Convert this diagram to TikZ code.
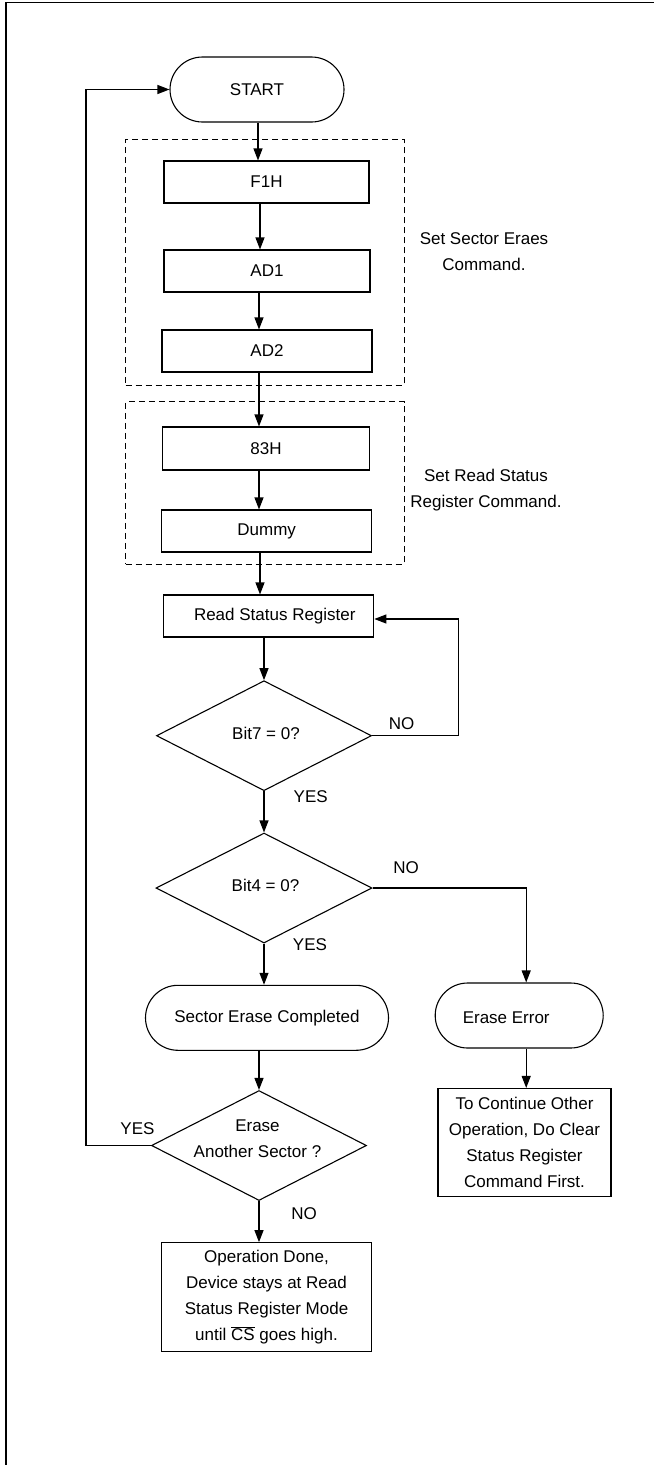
\documentclass[tikz,border=0pt]{standalone}
\usepackage{fontspec}
\setmainfont{Liberation Sans}
\usetikzlibrary{arrows.meta,shapes.geometric,shapes.misc}
\begin{document}
\begin{tikzpicture}[x=1pt,y=-1pt,
  every node/.style={font=\fontsize{17}{26}\selectfont, inner sep=0pt},
  box/.style={draw, line width=1.1pt, rectangle, minimum width=#1, minimum height=42pt, align=center},
  box/.default=210pt,
  term/.style={draw, line width=1.1pt, rounded rectangle, minimum width=#1, minimum height=65pt},
  dec/.style={draw, line width=1.1pt, diamond, minimum width=215pt, minimum height=110pt, shape aspect=1.95},
  dashbox/.style={draw, line width=1pt, dash pattern=on 6pt off 4pt, rectangle},
  arr/.style={line width=1.1pt, -{Triangle[length=12pt,width=9pt]}},
  lbl/.style={align=center}
]
\useasboundingbox (0,0) rectangle (654,1465);
% frame
\draw[line width=1.6pt] (6,1465) -- (6,2.5) -- (654,2.5);

% dashed groups
\node[dashbox, minimum width=278.3pt, minimum height=245.7pt] (grp1) at (264.85,262.15) {};
\node[dashbox, minimum width=278.3pt, minimum height=162.3pt] (grp2) at (264.85,482.85) {};

% nodes
\node[term=174pt] (start) at (257,89.5) {START};
\node[box=205pt] (f1h) at (266.5,182) {F1H};
\node[box=206pt] (ad1) at (267,271) {AD1};
\node[box=210pt] (ad2) at (267,351) {AD2};
\node[box=207pt, minimum height=43pt] (h83) at (266,448.5) {83H};
\node[box=210pt] (dummy) at (266.7,531) {Dummy};
\node[box=210pt, label={[xshift=6pt]center:Read Status Register}] (rsr) at (268.8,616) {};

\node[dec, label={[xshift=2pt,yshift=2.5pt]center:Bit7 = 0?}] (bit7) at (264,735.7) {};
\node[dec, minimum width=216pt, label={[xshift=1.5pt,yshift=3pt]center:Bit4 = 0?}] (bit4) at (264,888) {};

\node[term=243pt] (sec) at (267,1017.8) {Sector Erase Completed};
\node[term=168pt, label={[xshift=-13pt,yshift=-2pt]center:Erase Error}] (err) at (519.2,1015.5) {};

\node[dec, label={[lbl,xshift=-1.5pt,yshift=7pt]center:Erase\\Another Sector ?}] (another) at (259,1145.5) {};

\node[box=173pt, minimum height=108pt] (cont) at (524.5,1142.5)
  {To Continue Other\\Operation, Do Clear\\Status Register\\Command First.};
\node[box=210pt, minimum height=109pt] (done) at (266.5,1297.2)
  {Operation Done,\\Device stays at Read\\Status Register Mode\\until \(\overline{\mbox{CS}}\) goes high.};

% captions
\node[lbl] (cap1) at (484,251.5) {Set Sector Eraes\\Command.};
\node[lbl] (cap2) at (486,490.5) {Set Read Status\\Register Command.};

% labels
\node (no1) at (401.7,724) {NO};
\node (yes1) at (310.7,797) {YES};
\node (no2) at (406,868) {NO};
\node (yes2) at (310,944.7) {YES};
\node (yes3) at (137.5,1129) {YES};
\node (no3) at (304,1214) {NO};

% connectors
\draw[arr] (start.south -| 258,0) -- (f1h.north -| 258,0);
\draw[arr] (f1h.south -| 260,0) -- (ad1.north -| 260,0);
\draw[arr] (ad1.south -| 259,0) -- (ad2.north -| 259,0);
\draw[arr] (ad2.south -| 259,0) -- (h83.north -| 259,0);
\draw[arr] (h83.south -| 259,0) -- (dummy.north -| 259,0);
\draw[arr] (dummy.south -| 260,0) -- (rsr.north -| 260,0);
\draw[arr] (rsr.south -| bit7.north) -- (bit7.north);
\draw[arr] (bit7.south) -- (bit4.north);
\draw[arr] (bit4.south) -- (sec.north -| bit4.south);
\draw[arr] (sec.south -| another.north) -- (another.north);
\draw[arr] (another.south) -- (done.north -| another.south);
\draw[arr] (bit7.east) -- ++(86,0) |- ([yshift=-3pt]rsr.east);
\draw[arr] (bit4.east) -| ([xshift=7pt]err.north);
\draw[arr] ([xshift=7pt]err.south) -- ([xshift=7pt]err.south |- cont.north);
\coordinate (lp) at (86,1146);
\draw[arr] (another.west) -- (another.west -| lp) |- (start.west);
\end{tikzpicture}
\end{document}
